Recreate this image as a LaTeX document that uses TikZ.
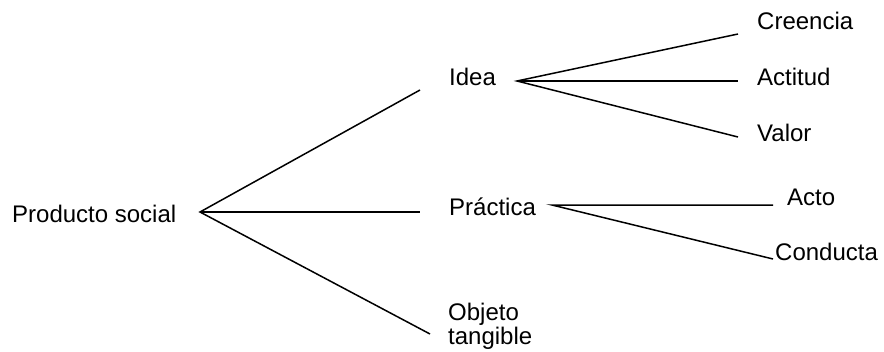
\documentclass[tikz,border=0pt]{standalone}
\usepackage{fontspec}
\setmainfont{Liberation Sans}
\usetikzlibrary{positioning}
\tikzset{
    branch/.style={draw=black, line width=1.5pt},
    term/.style={anchor=base west, inner sep=0pt, font=\fontsize{24}{24}\selectfont},
}

\begin{document}
\begin{tikzpicture}[x=1pt, y=-1pt]
	\useasboundingbox (0,0) rectangle (884,351);
	% terms
	\node[term] (ps) at (12,222) {Producto social};
	\node[term] (idea) at (449,85) {Idea};
	\node[term] (prac) at (449,215) {Práctica};
	\node[term, align=left] (obj) at (448,344) {Objeto\\tangible};
	\node[term] (cree) at (757,29) {Creencia};
	\node[term] (acti) at (757,85) {Actitud};
	\node[term] (valor) at (757,141) {Valor};
	\node[term] (acto) at (787,205) {Acto};
	\node[term] (cond) at (775,260) {Conducta};
	% branch ends
	\coordinate (psR) at (200,212);
	\coordinate (ideaL) at (420,90);
	\coordinate (pracL) at (420,212);
	\coordinate (objL) at (430,334);
	\coordinate (ideaR) at (517,81);
	\coordinate (creeL) at (738,34);
	\coordinate (actiL) at (738,81);
	\coordinate (valorL) at (738,137);
	\coordinate (pracR) at (552,205);
	\coordinate (actoL) at (773,205);
	\coordinate (condL) at (773,259);
	% branches
	\draw[branch] (ideaL)--(psR)--(objL);
	\draw[branch] (psR)--(pracL);
	\draw[branch] (creeL)--(ideaR)--(valorL);
	\draw[branch] (ideaR)--(actiL);
	\draw[branch] (actoL)--(pracR)--(condL);
\end{tikzpicture}
\end{document}
